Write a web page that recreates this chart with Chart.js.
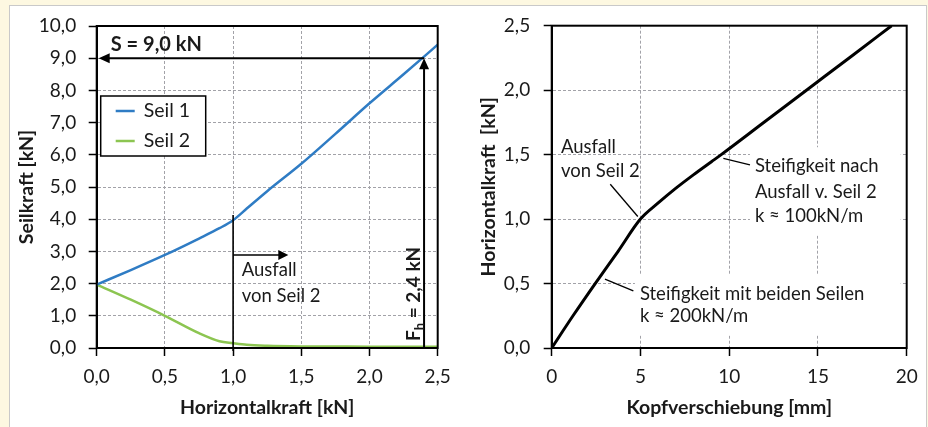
<!DOCTYPE html>
<html>
<head>
<meta charset="utf-8">
<script src="https://cdn.jsdelivr.net/npm/chart.js@4.4.0/dist/chart.umd.min.js"></script>
<style>
html, body { margin: 0; padding: 0; width: 928px; height: 427px; overflow: hidden; background: #fdf8e1; }
#panel { position: absolute; left: 9px; top: 5px; width: 916px; height: 440px; background: #fff; border: 1px solid #c9c9c9; }
canvas { position: absolute; top: 0; }
#left { left: 0; }
#right { left: 470px; }
</style>
</head>
<body>
<div id="panel"></div>
<canvas id="left" width="470" height="427"></canvas>
<canvas id="right" width="458" height="427"></canvas>
<script>
// Seilkräfte über der Horizontalkraft
const horizontalkraft = [0, 0.25, 0.5, 0.75, 0.9, 1.0, 1.1, 1.25, 1.5, 1.75, 2.0, 2.25, 2.5];
const seil1 = [1.97, 2.42, 2.89, 3.4, 3.72, 3.97, 4.33, 4.87, 5.72, 6.65, 7.6, 8.5, 9.42];
const seil2 = [1.97, 1.5, 1.0, 0.46, 0.21, 0.15, 0.1, 0.07, 0.05, 0.045, 0.04, 0.04, 0.04];

// Horizontalkraft über der Kopfverschiebung
const kopfverschiebung = [0, 1.2, 2.45, 3.74, 5, 6, 7, 8, 9, 9.55, 12, 14.5, 17, 19.15];
const kopfKraft = [0, 0.25, 0.5, 0.75, 1.0, 1.125, 1.24, 1.345, 1.445, 1.5, 1.755, 2.015, 2.275, 2.5];

const seilkraftS = 9.0;
const kraftFh = 2.4;
const ausfallBei = 1.0;

const FONT = 'Lato';
const TXT = '#1a1a1a';
const comma = v => v.toFixed(1).replace('.', ',');

Chart.defaults.font.family = FONT;
Chart.defaults.color = TXT;

function line(ctx, x1, y1, x2, y2) {
    ctx.beginPath();
    ctx.moveTo(x1, y1);
    ctx.lineTo(x2, y2);
    ctx.stroke();
}

function head(ctx, x, y, angle, len, half) {
    ctx.save();
    ctx.translate(x, y);
    ctx.rotate(angle);
    ctx.beginPath();
    ctx.moveTo(0, 0);
    ctx.lineTo(-len, -half);
    ctx.lineTo(-len, half);
    ctx.closePath();
    ctx.fill();
    ctx.restore();
}

function frame(chart) {
    const {ctx, chartArea: a} = chart;
    ctx.save();
    ctx.strokeStyle = '#000';
    ctx.lineWidth = 2;
    ctx.strokeRect(a.left, a.top, a.width, a.height);
    ctx.restore();
}

function axisX(min, max, step, fmt, pad) {
    return {
        type: 'linear', min: min, max: max,
        afterFit: s => { s.height = 79; },
        ticks: { stepSize: step, callback: fmt, padding: pad, font: { size: 19 }, color: TXT, maxRotation: 0 },
        grid: { color: '#a2a2a8', lineWidth: 1, tickLength: 8, tickColor: '#000', tickWidth: 1.5 },
        border: { display: true, color: '#000', width: 2, dash: [3, 2] }
    };
}

function axisY(min, max, step, fmt, width, pad) {
    return {
        type: 'linear', min: min, max: max,
        afterFit: s => { s.width = width; },
        ticks: { stepSize: step, callback: fmt, padding: pad, font: { size: 19 }, color: TXT },
        grid: { color: '#a2a2a8', lineWidth: 1, tickLength: 8, tickColor: '#000', tickWidth: 1.5 },
        border: { display: true, color: '#000', width: 2, dash: [3, 2] }
    };
}

const leftNotes = {
    id: 'leftNotes',
    afterDatasetsDraw(chart) {
        const {ctx, chartArea: a, scales: {x, y}} = chart;
        ctx.save();
        ctx.strokeStyle = '#000';
        ctx.fillStyle = '#000';

        // S und F_h Pfeile
        const xf = x.getPixelForValue(kraftFh);
        const ys = y.getPixelForValue(seilkraftS);
        ctx.lineWidth = 2;
        line(ctx, xf, ys, a.left + 12, ys);
        head(ctx, a.left + 2, ys, Math.PI, 11, 5);
        line(ctx, xf, a.bottom, xf, ys + 10);
        head(ctx, xf, ys, -Math.PI / 2, 11, 5);

        // Ausfall von Seil 2
        const xa = x.getPixelForValue(ausfallBei);
        ctx.lineWidth = 1.6;
        line(ctx, xa, y.getPixelForValue(4.13), xa, a.bottom + 3);
        const ya = y.getPixelForValue(2.89);
        const xt = x.getPixelForValue(1.405);
        line(ctx, xa, ya, xt - 9, ya);
        head(ctx, xt, ya, 0, 10, 5);

        ctx.textAlign = 'left';
        ctx.textBaseline = 'middle';
        ctx.font = '18.5px ' + FONT;
        ctx.fillStyle = TXT;
        ctx.fillText('Ausfall', x.getPixelForValue(1.063), y.getPixelForValue(2.42));
        ctx.fillText('von Seil 2', x.getPixelForValue(1.063), y.getPixelForValue(1.62));

        ctx.font = 'bold 20px ' + FONT;
        ctx.fillText('S = ' + comma(seilkraftS) + ' kN', x.getPixelForValue(0.103), y.getPixelForValue(9.41));

        // F_h gedreht
        ctx.save();
        ctx.translate(x.getPixelForValue(2.319), y.getPixelForValue(1.68));
        ctx.rotate(-Math.PI / 2);
        ctx.textBaseline = 'alphabetic';
        ctx.font = 'bold 19px ' + FONT;
        const t1 = 'F', t3 = ' = ' + comma(kraftFh) + ' kN';
        const w1 = ctx.measureText(t1).width, w3 = ctx.measureText(t3).width;
        ctx.font = 'bold 13px ' + FONT;
        const w2 = ctx.measureText('h').width;
        let sx = -(w1 + w2 + w3) / 2;
        ctx.font = 'bold 19px ' + FONT;
        ctx.fillText(t1, sx, 7);
        ctx.font = 'bold 13px ' + FONT;
        ctx.fillText('h', sx + w1, 11);
        ctx.font = 'bold 19px ' + FONT;
        ctx.fillText(t3, sx + w1 + w2, 7);
        ctx.restore();

        // Legende
        const lx = a.left + 4, ly = a.top + 70;
        ctx.fillStyle = '#fff';
        ctx.fillRect(lx, ly, 105, 60);
        ctx.strokeStyle = '#000';
        ctx.lineWidth = 1.5;
        ctx.strokeRect(lx, ly, 105, 60);
        ctx.font = '19.5px ' + FONT;
        ctx.textBaseline = 'middle';
        chart.data.datasets.forEach((ds, i) => {
            const cy = ly + 15 + i * 30;
            ctx.strokeStyle = ds.borderColor;
            ctx.lineWidth = 2.5;
            line(ctx, lx + 15, cy, lx + 34, cy);
            ctx.fillStyle = TXT;
            ctx.fillText(ds.label, lx + 43, cy);
        });
        ctx.restore();
        frame(chart);
    }
};

function textBlock(ctx, a, x0, centers, lines) {
    ctx.font = '18.5px ' + FONT;
    ctx.fillStyle = '#fff';
    ctx.fillRect(x0 - 5, centers[0] - 19, a.right - 6 - (x0 - 5), centers[centers.length - 1] - centers[0] + 38);
    ctx.fillStyle = TXT;
    ctx.textAlign = 'left';
    ctx.textBaseline = 'middle';
    lines.forEach((t, i) => ctx.fillText(t, x0, centers[i]));
}

const rightNotes = {
    id: 'rightNotes',
    afterDatasetsDraw(chart) {
        const {ctx, chartArea: a, scales: {x, y}} = chart;
        ctx.save();
        ctx.strokeStyle = '#000';
        ctx.lineWidth = 1.3;

        textBlock(ctx, a, x.getPixelForValue(11.45),
            [y.getPixelForValue(1.41), y.getPixelForValue(1.21), y.getPixelForValue(1.02)],
            ['Steifigkeit nach', 'Ausfall v. Seil 2', 'k \u2248 100kN/m']);
        textBlock(ctx, a, x.getPixelForValue(4.97),
            [y.getPixelForValue(0.42), y.getPixelForValue(0.245)],
            ['Steifigkeit mit beiden Seilen', 'k \u2248 200kN/m']);

        ctx.font = '18.5px ' + FONT;
        ctx.fillText('Ausfall', x.getPixelForValue(0.52), y.getPixelForValue(1.56));
        ctx.fillText('von Seil 2', x.getPixelForValue(0.52), y.getPixelForValue(1.37));

        line(ctx, x.getPixelForValue(3.3), y.getPixelForValue(1.27), x.getPixelForValue(4.85), y.getPixelForValue(1.02));
        line(ctx, x.getPixelForValue(9.67), y.getPixelForValue(1.47), x.getPixelForValue(11.17), y.getPixelForValue(1.42));
        line(ctx, x.getPixelForValue(3.0), y.getPixelForValue(0.534), x.getPixelForValue(4.6), y.getPixelForValue(0.443));
        ctx.restore();
        frame(chart);
    }
};

function pts(xs, ys) {
    return xs.map((v, i) => ({x: v, y: ys[i]}));
}

new Chart(document.getElementById('left'), {
    type: 'scatter',
    data: {
        datasets: [
            { label: 'Seil 1', data: pts(horizontalkraft, seil1), borderColor: '#2f7cc4', borderWidth: 2.5, showLine: true, pointRadius: 0, cubicInterpolationMode: 'monotone' },
            { label: 'Seil 2', data: pts(horizontalkraft, seil2), borderColor: '#8cc551', borderWidth: 2.5, showLine: true, pointRadius: 0, cubicInterpolationMode: 'monotone' }
        ]
    },
    options: {
        responsive: false,
        animation: false,
        layout: { padding: { left: 0, top: 26, right: 32.3, bottom: 0 } },
        plugins: { legend: { display: false }, tooltip: { enabled: false } },
        scales: {
            x: Object.assign(axisX(0, 2.5, 0.5, v => comma(v), 9), {
                title: { display: true, text: 'Horizontalkraft [kN]', font: { size: 19.5, weight: 'bold' }, color: TXT, padding: { top: 0, bottom: 8 } }
            }),
            y: Object.assign(axisY(0, 10, 1, v => comma(v), 96.7, 12.5), {
                title: { display: true, text: 'Seilkraft [kN]', font: { size: 19.5, weight: 'bold' }, color: TXT, padding: { top: 15, bottom: 0 } }
            })
        }
    },
    plugins: [leftNotes]
});

new Chart(document.getElementById('right'), {
    type: 'scatter',
    data: {
        datasets: [
            { label: 'Horizontalkraft', data: pts(kopfverschiebung, kopfKraft), borderColor: '#000', borderWidth: 3, showLine: true, pointRadius: 0, cubicInterpolationMode: 'monotone' }
        ]
    },
    options: {
        responsive: false,
        animation: false,
        layout: { padding: { left: 0, top: 25.7, right: 21.3, bottom: 0 } },
        plugins: { legend: { display: false }, tooltip: { enabled: false } },
        scales: {
            x: Object.assign(axisX(0, 20, 5, v => String(v), 9), {
                title: { display: true, text: 'Kopfverschiebung [mm]', font: { size: 19.5, weight: 'bold' }, color: TXT, padding: { top: 0, bottom: 8 } }
            }),
            y: Object.assign(axisY(0, 2.5, 0.5, v => comma(v), 81.7, 13.5), {
                title: { display: true, text: 'Horizontalkraft  [kN]', font: { size: 19.5, weight: 'bold' }, color: TXT, padding: { top: 7, bottom: 0 } }
            })
        }
    },
    plugins: [rightNotes]
});
</script>
</body>
</html>
